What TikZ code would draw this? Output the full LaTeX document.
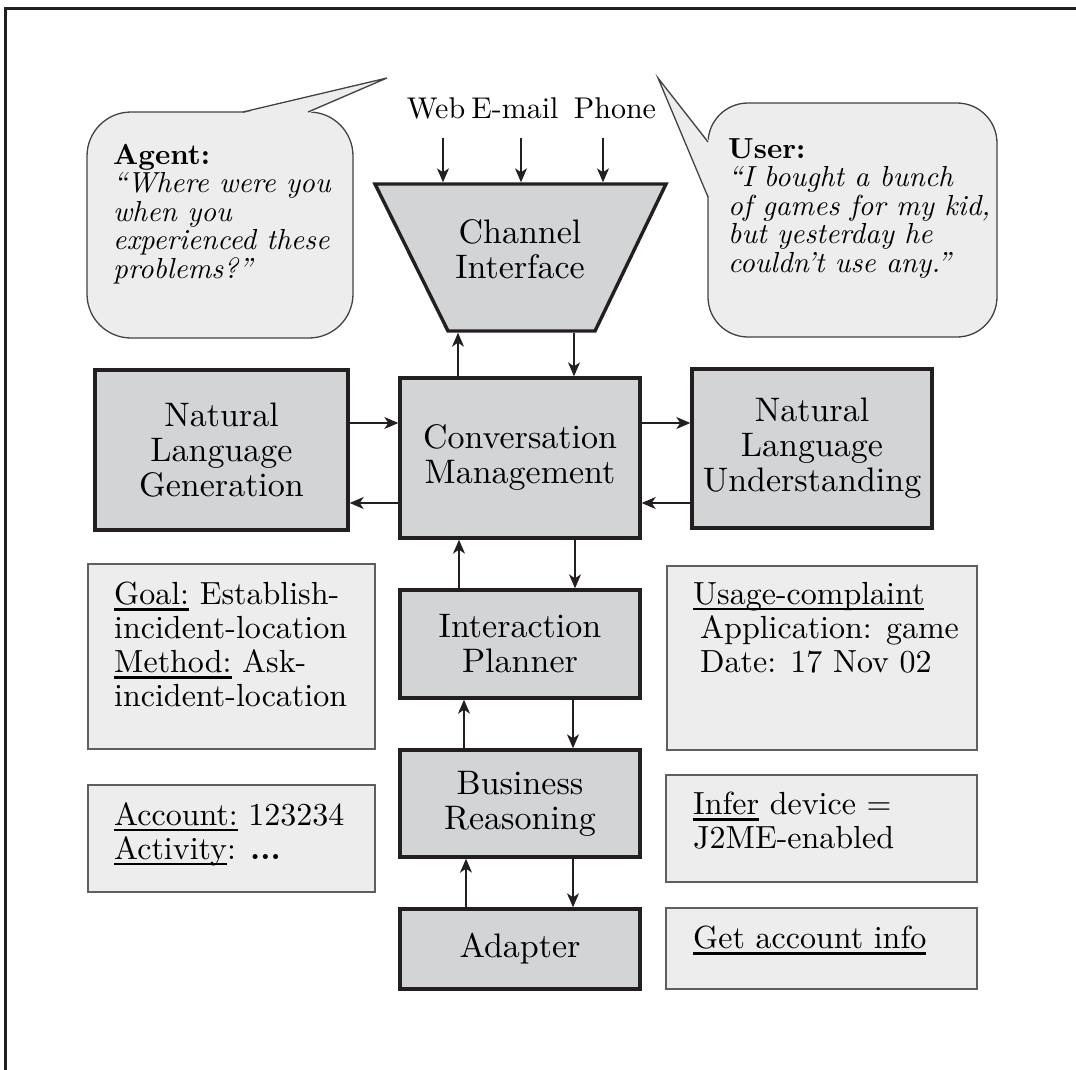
\documentclass[tikz,border=0pt]{standalone}
\usepackage{fontspec}
\setmainfont{lmroman10-regular.otf}[BoldFont=lmroman10-bold.otf, ItalicFont=lmroman10-italic.otf, BoldItalicFont=lmroman10-bolditalic.otf]
\usetikzlibrary{arrows.meta}
\definecolor{boxgray}{RGB}{211,212,214}
\definecolor{lightfill}{RGB}{237,237,237}
\definecolor{ink}{RGB}{35,31,32}
\definecolor{lightedge}{RGB}{95,95,95}
\newcommand\myul[1]{\setbox0\hbox{#1}\rlap{\rule[-6pt]{\wd0}{2.6pt}}\box0\relax}
\begin{document}
\begin{tikzpicture}[x=1pt,y=-1pt,
  bigbox/.style={draw=ink, line width=3.4pt, fill=boxgray, align=center, inner sep=0pt,
    font=\fontsize{34}{35}\selectfont},
  infobox/.style={draw=lightedge, line width=1.5pt, fill=lightfill, inner sep=0pt},
  infotext/.style={anchor=north west, align=left, inner sep=0pt, font=\fontsize{32}{34}\selectfont},
  bubbletext/.style={anchor=north west, align=left, inner sep=0pt, font=\fontsize{29}{28.5}\selectfont},
  bubble/.style={fill=lightfill, draw=ink!85, line width=1.3pt},
  arr/.style={draw=ink, line width=1.3pt, -{Stealth[length=14pt,width=12pt,inset=4pt]}},
  chan/.style={font=\fontsize{30}{35}\selectfont, anchor=base, inner sep=0pt}]
\useasboundingbox (0,0) rectangle (1076,1070);
% frame
\draw[ink, line width=2.6pt] (5.5,1070) -- (5.5,8.5) -- (1076,8.5);
% agent bubble
\path[bubble, rounded corners=44pt] (87,112) rectangle (353,338);
\fill[lightfill] (242,113.4) -- (387,78) -- (309,113.4) -- cycle;
\draw[draw=ink!85, line width=1.3pt, line join=miter] (243,112) -- (387,78) -- (308,112);
% user bubble
\path[bubble, rounded corners=40pt] (708,103) rectangle (997,337);
\fill[lightfill] (709.4,141) -- (658,78) -- (709.4,198) -- cycle;
\draw[draw=ink!85, line width=1.3pt, line join=miter] (708,142) -- (658,78) -- (708,197);
% bubble texts
\node[bubbletext] (agenttxt) at (113,144) {\textbf{Agent:}\\\textit{“Where were you}\\\textit{when you}\\\textit{experienced these}\\\textit{problems?”}};
\node[bubbletext] (usertxt) at (728,138) {\textbf{User:}\\\textit{“I bought a bunch}\\\textit{of games for my kid,}\\\textit{but yesterday he}\\\textit{couldn’t use any.”}};
% channel labels
\node[chan] (web) at (436,119) {Web};
\node[chan] (email) at (515,119) {E-mail};
\node[chan] (phone) at (615,119) {Phone};
% channel interface trapezoid
\filldraw[fill=boxgray, draw=ink, line width=3.4pt, line join=miter] (375,184) -- (666,184) -- (595,331) -- (448,331) -- cycle;
\node[align=center, inner sep=0pt, font=\fontsize{34}{35}\selectfont] (ci) at (520,249) {Channel\\Interface};
\coordinate (ciT1) at (443,182.3);
\coordinate (ciT2) at (521,182.3);
\coordinate (ciT3) at (603,182.3);
\coordinate (ciB1) at (458,332.7);
\coordinate (ciB2) at (574,332.7);
\coordinate (w1) at (443,138);
\coordinate (w2) at (521,138);
\coordinate (w3) at (603,138);
% main boxes
\node[bigbox, minimum width=253pt, minimum height=160pt] (nlg) at (221.5,450) {Natural\\Language\\Generation};
\node[bigbox, minimum width=240pt, minimum height=160pt] (cm) at (520,458) {Conversation\\Management};
\node[bigbox, minimum width=240pt, minimum height=159pt] (nlu) at (812,448.5) {Natural\\Language\\Understanding};
\node[bigbox, minimum width=240pt, minimum height=108pt] (ip) at (520,644) {Interaction\\Planner};
\node[bigbox, minimum width=240pt, minimum height=107pt] (br) at (520,803.5) {Business\\Reasoning};
\node[bigbox, minimum width=240pt, minimum height=80pt] (adapter) at (520,949) {Adapter};
% info boxes
\node[infobox, minimum width=287pt, minimum height=185pt] (goal) at (231.5,656.5) {};
\node[infobox, minimum width=287pt, minimum height=107pt] (acct) at (231.5,838.5) {};
\node[infobox, minimum width=310pt, minimum height=184pt] (usage) at (822,658) {};
\node[infobox, minimum width=311pt, minimum height=107pt] (infer) at (821.5,828.5) {};
\node[infobox, minimum width=311pt, minimum height=81pt] (getacct) at (821.5,948.5) {};
\node[infotext] (goaltxt) at (114,582) {\myul{Goal:} Establish-\\incident-location\\\myul{Method:} Ask-\\incident-location};
\node[infotext] (accttxt) at (114,802) {\myul{Account:} 123234\\\myul{Activity}: \textbf{...}};
\node[infotext] (usagetxt) at (693,582) {\myul{Usage-complaint}\\\hspace*{7pt}Application: game\\\hspace*{7pt}Date: 17 Nov 02};
\node[infotext] (infertxt) at (693,792) {\myul{Infer} device =\\J2ME-enabled};
\node[infotext] (gettxt) at (693,926) {\myul{Get account info}};
% arrows
\coordinate (rowA) at (0,423);
\coordinate (rowB) at (0,503);
\draw[arr] (w1) -- (ciT1);
\draw[arr] (w2) -- (ciT2);
\draw[arr] (w3) -- (ciT3);
\draw[arr] (cm.north -| ciB1) -- (ciB1);
\draw[arr] (ciB2) -- (cm.north -| ciB2);
\draw[arr] (nlg.east |- rowA) -- (cm.west |- rowA);
\draw[arr] (cm.west |- rowB) -- (nlg.east |- rowB);
\draw[arr] (cm.east |- rowA) -- (nlu.west |- rowA);
\draw[arr] (nlu.west |- rowB) -- (cm.east |- rowB);
\draw[arr] ([xshift=-61pt]ip.north) -- ([xshift=-61pt]cm.south);
\draw[arr] ([xshift=55pt]cm.south) -- ([xshift=55pt]ip.north);
\draw[arr] ([xshift=-56pt]br.north) -- ([xshift=-56pt]ip.south);
\draw[arr] ([xshift=53pt]ip.south) -- ([xshift=53pt]br.north);
\draw[arr] ([xshift=-54pt]adapter.north) -- ([xshift=-54pt]br.south);
\draw[arr] ([xshift=53pt]br.south) -- ([xshift=53pt]adapter.north);
\end{tikzpicture}
\end{document}
